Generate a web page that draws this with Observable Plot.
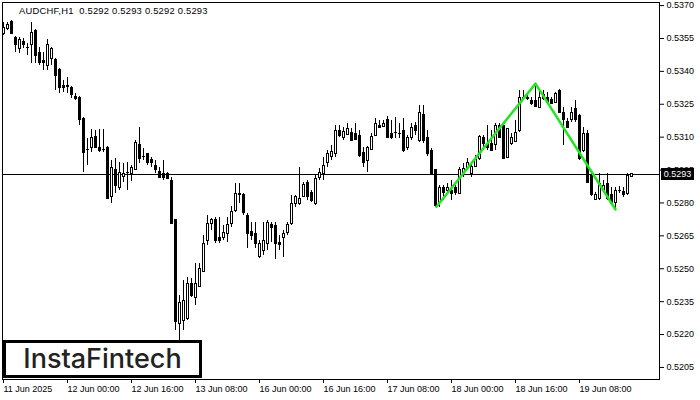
<!DOCTYPE html>
<html><head><meta charset="utf-8">
<script src="https://cdn.jsdelivr.net/npm/d3@7"></script>
<script src="https://cdn.jsdelivr.net/npm/@observablehq/plot@0.6"></script>
<style>
body{margin:0;background:#fff;}
#wrap{position:relative;width:700px;height:400px;overflow:hidden;font-family:"Liberation Sans",Arial,sans-serif;background:#fff;}
#title{position:absolute;left:19px;top:6px;font-size:9.4px;line-height:9px;white-space:pre;color:#000;letter-spacing:0.22px;}
#logo{position:absolute;left:3px;top:340px;width:193px;height:32px;border:3px solid #000;background:#fff;color:#222;font-family:Inter,"Liberation Sans",sans-serif;font-weight:500;font-size:27px;line-height:32px;text-align:center;}
#price{position:absolute;left:661px;width:33px;height:12px;background:#000;color:#fff;font-size:9px;line-height:12px;text-align:center;}
</style></head>
<body><div id="wrap"></div>
<script>
const symbolTitle = "AUDCHF,H1  0.5292 0.5293 0.5292 0.5293";
const brand = "InstaFintech";
const lastPrice = 0.5293;
const open = [0.53572,0.53595,0.53627,0.53554,0.53504,0.53536,0.53508,0.53518,0.53586,0.53486,
0.53445,0.53426,0.53458,0.53454,0.53404,0.53335,0.53331,0.53326,0.53285,0.53280,
0.53185,0.53043,0.53052,0.53103,0.53052,0.53043,0.53052,0.52829,0.52952,0.52870,
0.52920,0.52938,0.52934,0.52952,0.53062,0.53011,0.53021,0.52998,0.52970,0.52943,
0.52934,0.52934,0.52902,0.52720,0.52250,0.52264,0.52273,0.52432,0.52368,0.52419,
0.52487,0.52628,0.52706,0.52720,0.52642,0.52638,0.52660,0.52706,0.52765,0.52834,
0.52834,0.52742,0.52669,0.52660,0.52555,0.52583,0.52615,0.52701,0.52695,0.52619,
0.52638,0.52665,0.52706,0.52797,0.52797,0.52829,0.52893,0.52847,0.52797,0.52916,
0.52934,0.52980,0.53011,0.53021,0.53130,0.53098,0.53112,0.53121,0.53116,0.53107,
0.53030,0.52993,0.53043,0.53107,0.53153,0.53148,0.53176,0.53116,0.53121,0.53114,
0.53130,0.53052,0.53098,0.53153,0.53084,0.53203,0.53094,0.53039,0.52948,0.52802,
0.52866,0.52856,0.52856,0.52866,0.52843,0.52938,0.52961,0.52934,0.52966,0.53002,
0.53094,0.53071,0.53071,0.53062,0.53153,0.53153,0.53007,0.53071,0.53080,0.53130,
0.53278,0.53280,0.53267,0.53267,0.53235,0.53290,0.53280,0.53271,0.53258,0.53312,
0.53208,0.53171,0.53180,0.53230,0.53198,0.53039,0.53116,0.52925,0.52815,0.52820,
0.52856,0.52888,0.52834,0.52802,0.52856,0.52852,0.52843,0.52920];
const high = [0.53622,0.53622,0.53632,0.53559,0.53554,0.53550,0.53527,0.53622,0.53591,0.53508,
0.53486,0.53545,0.53508,0.53458,0.53413,0.53358,0.53372,0.53331,0.53299,0.53285,
0.53189,0.53094,0.53135,0.53130,0.53135,0.53135,0.53057,0.52993,0.53002,0.52984,
0.52980,0.52984,0.52970,0.53084,0.53144,0.53048,0.53025,0.53007,0.52993,0.52961,
0.52993,0.52938,0.52916,0.52724,0.52378,0.52446,0.52460,0.52455,0.52524,0.52524,
0.52651,0.52742,0.52729,0.52733,0.52733,0.52695,0.52733,0.52783,0.52888,0.52888,
0.52843,0.52752,0.52710,0.52710,0.52628,0.52710,0.52720,0.52710,0.52710,0.52651,
0.52674,0.52710,0.52834,0.52834,0.52961,0.52893,0.52902,0.52856,0.52925,0.52957,
0.53007,0.53039,0.53062,0.53153,0.53153,0.53144,0.53162,0.53139,0.53162,0.53130,
0.53052,0.53057,0.53116,0.53185,0.53176,0.53176,0.53194,0.53176,0.53189,0.53162,
0.53185,0.53107,0.53162,0.53166,0.53244,0.53244,0.53130,0.53048,0.52952,0.52879,
0.52879,0.52888,0.52902,0.52879,0.52961,0.52980,0.53002,0.52980,0.53016,0.53107,
0.53107,0.53153,0.53130,0.53162,0.53162,0.53162,0.53140,0.53116,0.53176,0.53312,
0.53312,0.53299,0.53280,0.53335,0.53312,0.53312,0.53303,0.53280,0.53303,0.53317,
0.53235,0.53185,0.53235,0.53267,0.53203,0.53144,0.53130,0.52934,0.52847,0.52934,
0.52902,0.52934,0.52870,0.52870,0.52875,0.52870,0.52934,0.52930];
const low = [0.53563,0.53586,0.53568,0.53486,0.53481,0.53504,0.53472,0.53436,0.53436,0.53426,
0.53404,0.53404,0.53426,0.53312,0.53299,0.53303,0.53299,0.53276,0.53267,0.53153,
0.52938,0.52970,0.53030,0.53048,0.53030,0.53030,0.52815,0.52797,0.52843,0.52856,
0.52893,0.52856,0.52897,0.52948,0.52980,0.52993,0.52970,0.52961,0.52934,0.52911,
0.52902,0.52907,0.52701,0.52218,0.52172,0.52218,0.52264,0.52368,0.52332,0.52414,
0.52483,0.52606,0.52674,0.52615,0.52615,0.52628,0.52619,0.52688,0.52756,0.52797,
0.52742,0.52592,0.52628,0.52592,0.52546,0.52560,0.52583,0.52619,0.52542,0.52583,
0.52551,0.52651,0.52697,0.52779,0.52788,0.52825,0.52811,0.52802,0.52788,0.52902,
0.52902,0.52961,0.52993,0.53007,0.53098,0.53084,0.53107,0.53080,0.53084,0.53007,
0.52961,0.52938,0.53039,0.53103,0.53139,0.53144,0.53094,0.53089,0.53094,0.53094,
0.53030,0.53039,0.53084,0.53107,0.53075,0.53071,0.53011,0.52929,0.52779,0.52779,
0.52811,0.52847,0.52811,0.52834,0.52838,0.52916,0.52948,0.52916,0.52961,0.52993,
0.53039,0.53039,0.53034,0.53039,0.53094,0.52998,0.53002,0.53062,0.53075,0.53121,
0.53267,0.53267,0.53244,0.53235,0.53230,0.53267,0.53253,0.53249,0.53253,0.53208,
0.53062,0.53139,0.53166,0.53166,0.52993,0.53030,0.52888,0.52829,0.52811,0.52811,
0.52847,0.52811,0.52793,0.52770,0.52843,0.52825,0.52834,0.52920];
const close = [0.53600,0.53613,0.53572,0.53518,0.53545,0.53518,0.53506,0.53577,0.53472,0.53436,
0.53436,0.53518,0.53504,0.53381,0.53326,0.53326,0.53328,0.53290,0.53276,0.53176,
0.53030,0.53041,0.53094,0.53052,0.53039,0.53041,0.52820,0.52961,0.52879,0.52938,
0.52934,0.52936,0.52961,0.53075,0.53002,0.53009,0.52980,0.52980,0.52948,0.52916,
0.52916,0.52911,0.52706,0.52255,0.52346,0.52355,0.52432,0.52378,0.52432,0.52501,
0.52615,0.52706,0.52720,0.52628,0.52628,0.52665,0.52701,0.52761,0.52843,0.52843,
0.52752,0.52660,0.52651,0.52615,0.52615,0.52628,0.52710,0.52688,0.52615,0.52606,
0.52660,0.52701,0.52793,0.52825,0.52820,0.52884,0.52829,0.52811,0.52911,0.52938,
0.52970,0.53025,0.53034,0.53130,0.53107,0.53125,0.53135,0.53084,0.53089,0.53016,
0.52980,0.53052,0.53103,0.53162,0.53144,0.53162,0.53098,0.53094,0.53119,0.53116,
0.53039,0.53094,0.53144,0.53130,0.53212,0.53084,0.53021,0.52934,0.52788,0.52870,
0.52847,0.52866,0.52843,0.52847,0.52948,0.52957,0.52984,0.52966,0.52998,0.53103,
0.53071,0.53052,0.53039,0.53153,0.53098,0.53002,0.53135,0.53098,0.53121,0.53280,
0.53280,0.53276,0.53253,0.53239,0.53280,0.53276,0.53258,0.53253,0.53299,0.53212,
0.53176,0.53144,0.53212,0.53176,0.53002,0.53116,0.52893,0.52834,0.52834,0.52888,
0.52879,0.52820,0.52797,0.52856,0.52854,0.52834,0.52925,0.52930];
const patternIdx = [108.25, 133, 153];
const patternPrice = [0.52783, 0.53344, 0.52770];
const xTickIdx = [0, 16, 32, 48, 64, 80, 96, 112, 128, 144];
const xTickLabels = ["11 Jun 2025","12 Jun 00:00","12 Jun 16:00","13 Jun 08:00","16 Jun 00:00","16 Jun 16:00","17 Jun 08:00","18 Jun 00:00","18 Jun 16:00","19 Jun 08:00"];
const yTicks = [0.5205,0.5220,0.5235,0.5250,0.5265,0.5280,0.5295,0.5310,0.5325,0.5340,0.5355,0.5370];

const candles = open.map((o, i) => ({i, o, h: high[i], l: low[i], c: close[i]}));
const pattern = patternIdx.map((i, k) => ({i, p: patternPrice[k]}));
const labelOf = new Map(xTickIdx.map((d, k) => [d, xTickLabels[k]]));

const chart = Plot.plot({
  width: 700, height: 400,
  marginLeft: 2, marginRight: 41, marginTop: 2, marginBottom: 21,
  style: {fontFamily: "'Liberation Sans', Arial, sans-serif", fontSize: "9px", color: "#000", background: "transparent", overflow: "visible"},
  x: {type: "linear", domain: [-0.25, 164], axis: null},
  y: {domain: [0.51995, 0.53714], axis: null},
  marks: [
    Plot.ruleY([lastPrice], {stroke: "#000", shapeRendering: "crispEdges"}),
    Plot.ruleX(candles, {x: "i", y1: "l", y2: "h", stroke: "#000", shapeRendering: "crispEdges"}),
    Plot.rect(candles, {x1: d => d.i - 0.25, x2: d => d.i + 0.25, y1: "o", y2: "c", fill: d => d.c >= d.o ? "#fff" : "#000", stroke: "#000", shapeRendering: "crispEdges"}),
    Plot.line(pattern, {x: "i", y: "p", stroke: "#22e622", strokeWidth: 2.5}),
    Plot.frame({stroke: "#000", shapeRendering: "crispEdges"}),
    Plot.axisY(yTicks, {anchor: "right", tickSize: 4, tickPadding: 3, tickFormat: d => d.toFixed(4), label: null}),
    Plot.axisX(xTickIdx, {anchor: "bottom", tickSize: 4, tickPadding: 2, tickFormat: d => labelOf.get(d), textAnchor: "start", label: null})
  ]
});

const wrap = document.getElementById("wrap");
wrap.appendChild(chart);
const t = document.createElement("div"); t.id = "title"; t.textContent = symbolTitle; wrap.appendChild(t);
const lg = document.createElement("div"); lg.id = "logo"; lg.textContent = brand; wrap.appendChild(lg);
const pr = document.createElement("div"); pr.id = "price"; pr.textContent = lastPrice.toFixed(4);
pr.style.top = (chart.scale("y").apply(lastPrice) - 6) + "px";
wrap.appendChild(pr);
</script></body></html>
